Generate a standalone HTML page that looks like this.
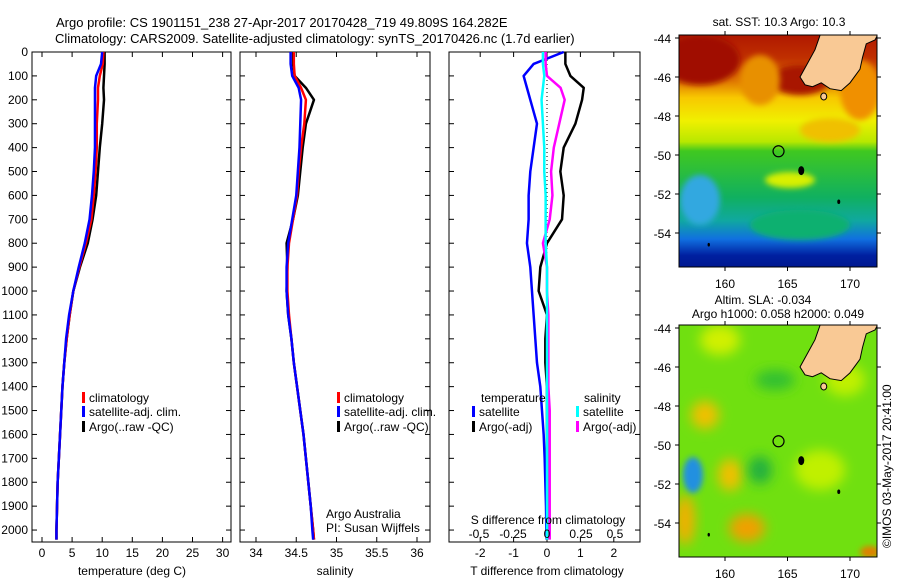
<!DOCTYPE html>
<html><head><meta charset="utf-8"><style>
body{margin:0;background:#fff;}
svg{display:block;font-family:"Liberation Sans",sans-serif;}
text{font-size:12px;fill:#000;}
</style></head><body>
<svg id="c" width="900" height="580" viewBox="0 0 900 580">
<defs>
<filter id="bl" x="-50%" y="-50%" width="200%" height="200%"><feGaussianBlur stdDeviation="6"/></filter>
<filter id="bl2" x="-50%" y="-50%" width="200%" height="200%"><feGaussianBlur stdDeviation="3"/></filter>
<clipPath id="cm1"><rect x="679" y="35" width="198" height="232"/></clipPath>
<clipPath id="cm2"><rect x="679" y="325" width="198" height="232"/></clipPath>
<linearGradient id="sst" x1="0" y1="0" x2="0" y2="1">
<stop offset="0" stop-color="#b01800"/><stop offset="0.1" stop-color="#c03000"/>
<stop offset="0.2" stop-color="#e07800"/><stop offset="0.27" stop-color="#f8c800"/>
<stop offset="0.37" stop-color="#f0f000"/><stop offset="0.46" stop-color="#b8e800"/>
<stop offset="0.5" stop-color="#40c820"/><stop offset="0.7" stop-color="#10b060"/>
<stop offset="0.8" stop-color="#10a8a0"/><stop offset="0.88" stop-color="#1070e0"/>
<stop offset="0.95" stop-color="#0020a0"/><stop offset="1" stop-color="#001890"/>
</linearGradient>
</defs>
<g id="title">
<text x="56" y="27" style="font-size:13px">Argo profile: CS 1901151_238 27-Apr-2017 20170428_719 49.809S 164.282E</text>
<text x="55" y="43" style="font-size:13px">Climatology: CARS2009. Satellite-adjusted climatology: synTS_20170426.nc (1.7d earlier)</text>
</g>
<g id="axes"></g>
<g id="series"></g>
<g id="maps">
<g clip-path="url(#cm1)">
<rect x="679" y="35" width="198" height="232" fill="url(#sst)"/>
<ellipse cx="700" cy="60" rx="40" ry="25" fill="#a01000" filter="url(#bl2)"/>
<ellipse cx="800" cy="80" rx="30" ry="15" fill="#a81400" filter="url(#bl2)"/>
<ellipse cx="760" cy="80" rx="20" ry="25" fill="#e89000" filter="url(#bl2)"/>
<ellipse cx="830" cy="130" rx="30" ry="12" fill="#f0c000" filter="url(#bl2)"/>
<ellipse cx="860" cy="90" rx="20" ry="30" fill="#f09000" filter="url(#bl2)"/>
<ellipse cx="790" cy="180" rx="25" ry="8" fill="#d8f000" filter="url(#bl2)"/>
<ellipse cx="700" cy="200" rx="20" ry="25" fill="#30a8e0" filter="url(#bl2)"/>
<ellipse cx="800" cy="225" rx="50" ry="15" fill="#10b070" filter="url(#bl2)"/>
</g>
<g clip-path="url(#cm2)">
<rect x="679" y="325" width="198" height="232" fill="#70e010"/>
<ellipse cx="720" cy="340" rx="20" ry="15" fill="#d0f000" filter="url(#bl)"/>
<ellipse cx="705" cy="415" rx="14" ry="14" fill="#f0c000" filter="url(#bl)"/>
<ellipse cx="730" cy="475" rx="12" ry="16" fill="#f0c000" filter="url(#bl)"/>
<ellipse cx="747" cy="528" rx="18" ry="14" fill="#f0a000" filter="url(#bl)"/>
<ellipse cx="685" cy="520" rx="10" ry="25" fill="#f0b000" filter="url(#bl)"/>
<ellipse cx="693" cy="475" rx="10" ry="18" fill="#2090e0" filter="url(#bl2)"/>
<ellipse cx="760" cy="470" rx="12" ry="14" fill="#20b040" filter="url(#bl)"/>
<ellipse cx="775" cy="380" rx="20" ry="10" fill="#30c030" filter="url(#bl)"/>
<ellipse cx="820" cy="470" rx="25" ry="20" fill="#c0f000" filter="url(#bl)"/>
<ellipse cx="845" cy="380" rx="20" ry="16" fill="#c0f000" filter="url(#bl)"/>
<ellipse cx="870" cy="552" rx="10" ry="6" fill="#e08000" filter="url(#bl2)"/>
</g>
</g>
<g id="labels"></g>
<text transform="translate(891,548) rotate(-90)" style="font-size:12px">©IMOS 03-May-2017 20:41:00</text>
</svg>
<script>
// ---- data ----
const depths = [0,50,100,150,200,300,400,500,600,700,800,900,1000,1100,1200,1300,1400,1500,1600,1700,1800,1900,2000,2040];
const tempArgo = [10.4,10.4,10.3,10.2,10.3,10.0,9.6,9.3,9.0,8.4,7.6,6.3,5.2,4.6,4.1,3.7,3.4,3.2,3.0,2.8,2.6,2.5,2.4,2.4];
const tempClim = [10.2,10.1,9.6,9.3,9.3,9.1,9.1,8.9,8.6,8.2,7.3,6.2,5.2,4.6,4.1,3.7,3.4,3.2,3.0,2.8,2.6,2.5,2.4,2.4];
const tempSat  = [10.0,9.8,9.0,8.8,8.8,8.8,8.8,8.6,8.3,7.9,7.1,6.1,5.2,4.5,4.0,3.7,3.4,3.2,3.0,2.8,2.6,2.5,2.4,2.4];
const salArgo = [34.46,34.46,34.48,34.62,34.72,34.62,34.58,34.55,34.52,34.46,34.38,34.39,34.38,34.40,34.44,34.47,34.51,34.55,34.59,34.62,34.65,34.68,34.71,34.72];
const salClim = [34.47,34.47,34.48,34.56,34.62,34.60,34.56,34.53,34.51,34.46,34.41,34.39,34.39,34.41,34.44,34.47,34.51,34.55,34.59,34.62,34.65,34.68,34.71,34.72];
const salSat  = [34.43,34.43,34.45,34.53,34.56,34.55,34.54,34.52,34.50,34.45,34.40,34.38,34.38,34.40,34.44,34.47,34.51,34.55,34.59,34.62,34.65,34.68,34.70,34.71];
const tdiffSat  = [0.5,-0.4,-0.7,-0.6,-0.5,-0.3,-0.4,-0.5,-0.55,-0.55,-0.6,-0.5,-0.45,-0.4,-0.35,-0.3,-0.2,-0.15,-0.1,-0.07,-0.05,-0.03,-0.02,-0.01];
const tdiffArgo = [0.55,0.55,0.7,1.1,1.05,0.85,0.5,0.4,0.5,0.45,0.0,-0.2,-0.25,0.0,-0.05,-0.05,0.0,0.0,0.0,0.0,0.0,0.0,0.0,0.0];
const sdiffSat  = [-0.03,-0.03,-0.02,-0.03,-0.04,-0.03,-0.02,-0.02,-0.01,-0.01,-0.01,0.0,0.0,0.0,0.0,0.0,0.0,0.0,0.0,0.0,0.0,0.0,0.0,0.0];
const sdiffArgo = [-0.01,-0.01,0.0,0.1,0.13,0.09,0.05,0.03,0.04,0.02,-0.03,0.0,0.0,0.01,0.01,0.01,0.01,0.02,0.02,0.02,0.02,0.02,0.02,0.02];
const depthTicks = [0,100,200,300,400,500,600,700,800,900,1000,1100,1200,1300,1400,1500,1600,1700,1800,1900,2000];
const tempTicks = [0,5,10,15,20,25,30];
const salTicks = [34,34.5,35,35.5,36];
const tdTicks = [-2,-1,0,1,2];
const sdTicks = [-0.5,-0.25,0,0.25,0.5];
const sdTickLabels = ['-0.5','-0.25','0','0.25','0.5'];
const latTicks = [-44,-46,-48,-50,-52,-54];
const lonTicks = [160,165,170];
const argoPos = [164.282,-49.809];

const NS='http://www.w3.org/2000/svg';
function mk(tag,attrs,parent){const e=document.createElementNS(NS,tag);for(const k in attrs)e.setAttribute(k,attrs[k]);parent.appendChild(e);return e;}
const Y0=52,Y1=542,D0=0,D1=2050;
const yD=d=>Y0+(d-D0)/(D1-D0)*(Y1-Y0);
const xT=v=>42+v*6.02;
const xS=v=>256+(v-34)*80.5;
const xTD=v=>547+v*33.4;
const xSD=v=>547+v*136;
const axes=document.getElementById('axes'),ser=document.getElementById('series'),lab=document.getElementById('labels');

function panel(name,x0,x1,xf,ticks,tlabels,ty,showDepth){
  const g=mk('g',{},axes);
  
  
  mk('rect',{x:x0,y:Y0,width:x1-x0,height:Y1-Y0,fill:'none',stroke:'#000','stroke-width':1},g);
  depthTicks.forEach(d=>{
    const y=yD(d);
    mk('line',{x1:x0,x2:x0+5,y1:y,y2:y,stroke:'#000'},g);
    mk('line',{x1:x1-5,x2:x1,y1:y,y2:y,stroke:'#000'},g);
    if(showDepth){const t=mk('text',{x:x0-4,y:y+4,'text-anchor':'end'},g);t.textContent=d;}
  });
  ticks.forEach((v,i)=>{
    const x=xf(v);
    mk('line',{x1:x,x2:x,y1:Y1,y2:Y1-5,stroke:'#000'},g);
    mk('line',{x1:x,x2:x,y1:Y0,y2:Y0+5,stroke:'#000'},g);
    const t=mk('text',{x:x,y:ty,'text-anchor':'middle'},g);t.textContent=tlabels[i];
  });
}
panel('temperature-panel',32,231,xT,tempTicks,tempTicks.map(String),557,true);
panel('salinity-panel',240,430,xS,salTicks,salTicks.map(String),557,false);
panel('difference-panel',449,640,xTD,tdTicks,tdTicks.map(String),557,false);
sdTicks.forEach((v,i)=>{const t=mk('text',{x:xSD(v),y:538,'text-anchor':'middle'},lab);


t.textContent=sdTickLabels[i];});
const zl=mk('line',{x1:xTD(0),x2:xTD(0),y1:Y0,y2:Y1,stroke:'#000','stroke-dasharray':'1,3'},ser);



function line(name,vals,xf,color){
  const p=mk('polyline',{points:vals.map((v,i)=>xf(v)+','+yD(depths[i])).join(' '),fill:'none',stroke:color,'stroke-width':2.5,'stroke-linejoin':'round'},ser);
  
  
}
line('temp-argo-line',tempArgo,xT,'#000');
line('temp-clim-line',tempClim,xT,'#f00');
line('temp-sat-line',tempSat,xT,'#00f');
line('sal-argo-line',salArgo,xS,'#000');
line('sal-clim-line',salClim,xS,'#f00');
line('sal-sat-line',salSat,xS,'#00f');
line('tdiff-argo-line',tdiffArgo,xTD,'#000');
line('tdiff-sat-line',tdiffSat,xTD,'#00f');
line('sdiff-argo-line',sdiffArgo,xSD,'#f0f');
line('sdiff-sat-line',sdiffSat,xSD,'#0ff');

function txt(name,x,y,s,anchor){const t=mk('text',{x:x,y:y,'text-anchor':anchor||'start'},lab);


t.textContent=s;return t;}
function leg(name,x,y,color,s){const g=mk('g',{},lab);


mk('rect',{x:x,y:y-10,width:3,height:11,fill:color},g);
const t=mk('text',{x:x+7,y:y},g);t.textContent=s;}
[[82,'temp'],[337,'sal']].forEach(([x,p])=>{
  leg(p+'-legend-climatology',x,402,'#f00','climatology');
  leg(p+'-legend-satellite',x,416,'#00f','satellite-adj. clim.');
  leg(p+'-legend-argo',x,431,'#000','Argo(..raw -QC)');
});
txt('legend-temperature-heading',481,402,'temperature');
txt('legend-salinity-heading',584,402,'salinity');
leg('tdiff-legend-satellite',472,416,'#00f','satellite');
leg('tdiff-legend-argo',472,431,'#000','Argo(-adj)');
leg('sdiff-legend-satellite',576,416,'#0ff','satellite');
leg('sdiff-legend-argo',576,431,'#f0f','Argo(-adj)');
txt('credit-argo-australia',326,518,'Argo Australia');
txt('credit-pi',326,532,'PI: Susan Wijffels');
txt('sdiff-axis-title',548,524,'S difference from climatology','middle');
txt('temp-axis-title',132,575,'temperature (deg C)','middle');
txt('sal-axis-title',335,575,'salinity','middle');
txt('tdiff-axis-title',547,575,'T difference from climatology','middle');

// maps
const lonX=lon=>679+(lon-156.32)*12.5;
function map(name,top,clip,t1){
  const latY=lat=>top+3+(-44-lat)*19.5;
  const g=mk('g',{},document.getElementById('maps'));
  
  
  const lg=mk('g',{'clip-path':'url(#'+clip+')'},g);
  const land=[[167.8,-43.5],[167.2,-44.6],[166.6,-45.3],[166.0,-46.0],[166.4,-46.4],[167.0,-46.5],[167.7,-46.3],[168.4,-46.6],[169.3,-46.7],[170.0,-46.3],[170.8,-45.6],[171.0,-45.0],[171.3,-44.3],[172.0,-44.1],[172.5,-43.5]];
  const lp=mk('polygon',{points:land.map(p=>lonX(p[0])+','+latY(p[1])).join(' '),fill:'#f9c995',stroke:'#000','stroke-width':1},lg);
  
  
  const si=mk('ellipse',{cx:lonX(167.9),cy:latY(-47.0),rx:3,ry:3.5,fill:'#f9c995',stroke:'#000'},lg);
  
  
  [[166.1,-50.8,3],[169.1,-52.4,1.5],[158.7,-54.6,1.2]].forEach(p=>{
    const e=mk('ellipse',{cx:lonX(p[0]),cy:latY(p[1]),rx:p[2],ry:p[2]*1.5,fill:'#000'},lg);
    
    
  });
  mk('rect',{x:679,y:top,width:198,height:232,fill:'none',stroke:'#000'},g);
  const c=mk('circle',{cx:lonX(argoPos[0]),cy:latY(argoPos[1]),r:5.5,fill:'none',stroke:'#000','stroke-width':1.2},g);
  
  
  latTicks.forEach(l=>{const y=latY(l);
    mk('line',{x1:679,x2:675,y1:y,y2:y,stroke:'#000'},g);
    mk('line',{x1:877,x2:881,y1:y,y2:y,stroke:'#000'},g);
    const t=mk('text',{x:671,y:y+5,'text-anchor':'end'},g);t.textContent=l;});
  lonTicks.forEach(l=>{const x=lonX(l);
    mk('line',{x1:x,x2:x,y1:top,y2:top-4,stroke:'#000'},g);
    mk('line',{x1:x,x2:x,y1:top+232,y2:top+236,stroke:'#000'},g);
    const t=mk('text',{x:x,y:top+253,'text-anchor':'middle'},g);t.textContent=l;});
  t1.forEach(a=>{const t=mk('text',{x:a[0],y:a[1],'text-anchor':'middle'},g);t.textContent=a[2];});
}
map('sst-map-frame',35,'cm1',[[779,26,'sat. SST: 10.3 Argo: 10.3']]);
map('sla-map-frame',325,'cm2',[[763,304,'Altim. SLA: -0.034'],[778,318,'Argo h1000: 0.058 h2000: 0.049']]);
</script>
</body></html>
